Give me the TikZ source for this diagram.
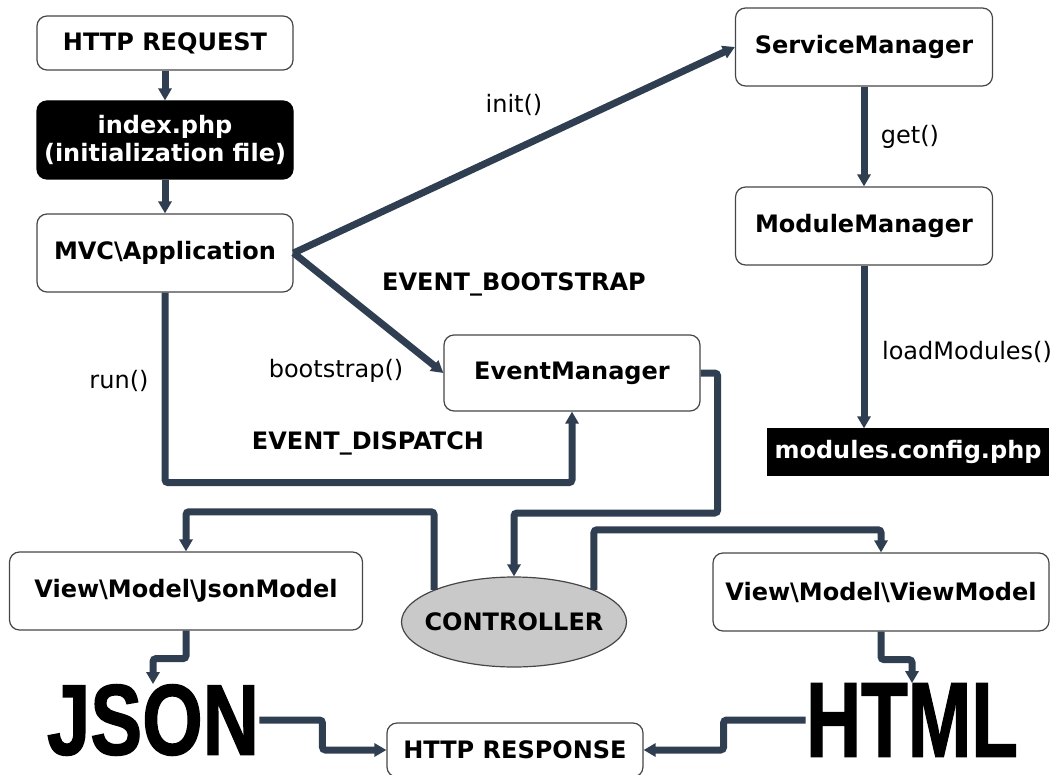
\documentclass[tikz,border=0pt]{standalone}
\usepackage{fontspec}
\setmainfont{DejaVu Sans}
\newfontfamily\bigfont{Liberation Sans}[BoldFeatures={FakeBold=1.5}]
\usepackage{graphicx}
\usepackage{tikz}
\usetikzlibrary{arrows.meta,shapes.geometric}
\definecolor{linkcol}{RGB}{47,62,80}
\definecolor{boxline}{RGB}{70,70,70}
\newcommand{\bs}{\textbackslash}

\begin{document}
\begin{tikzpicture}[x=0.5pt, y=-0.5pt,
  box/.style={draw=boxline, fill=white, line width=0.6pt, rounded corners=5pt, minimum width=128pt, minimum height=39pt,
              align=center, font=\fontsize{12}{14}\selectfont\bfseries},
  darkbox/.style={box, draw=black, fill=black, text=white},
  lab/.style={font=\fontsize{12}{14}\selectfont},
  blab/.style={font=\fontsize{12}{14}\selectfont\bfseries},
  big/.style={inner sep=0pt, font=\bigfont\bfseries},
  link/.style={-{Triangle[length=6pt, width=6.5pt]}, linkcol, line width=3.5pt, rounded corners=1.5pt}]
  \useasboundingbox (0,0) rectangle (1059,775);
  % left column
  \node[box, minimum height=27pt] (req) at (165,43) {HTTP REQUEST};
  \node[darkbox] (idx) at (165,140) {index.php\\(initialization file)};
  \node[box] (app) at (165,253) {MVC\bs Application};
  % right column
  \node[box, minimum width=128.5pt] (sm) at (864,47) {ServiceManager};
  \node[box, minimum width=128.5pt] (mm) at (864,226) {ModuleManager};
  \node[box, rounded corners=0pt, draw=black, fill=black, text=white, inner sep=2pt,
        minimum width=140.5pt, minimum height=23pt] (mcfg) at (908,452) {modules.config.php};
  % middle
  \node[box, minimum height=38pt] (em) at (572,373) {EventManager};
  \node[ellipse, draw=boxline, fill=black!21, line width=0.6pt, inner sep=0pt, minimum width=112.5pt,
        minimum height=45pt, font=\fontsize{12}{14}\selectfont\bfseries] (ctl) at (514,622) {\makebox[0pt]{CONTROLLER}};
  % views
  \node[box, minimum width=176.5pt] (jm) at (186,591) {View\bs Model\bs JsonModel};
  \node[box, minimum width=168pt] (vm) at (881,592) {View\bs Model\bs ViewModel};
  \node[big] (json) at (153,720) {\resizebox*{106pt}{35.5pt}{JSON}};
  \node[big] (html) at (912,720) {\resizebox*{106pt}{36.5pt}{HTML}};
  \node[box, minimum height=27pt] (resp) at (515,750) {HTTP RESPONSE};
  % labels
  \node[lab] (init) at (514,105) {init()};
  \node[lab] (get) at (910,137) {get()};
  \node[lab] (load) at (967,352) {loadModules()};
  \node[blab] (boot) at (514,284) {EVENT\_BOOTSTRAP};
  \node[lab] (bstr) at (336,371) {bootstrap()};
  \node[lab] (run) at (119,381) {run()};
  \node[blab] (disp) at (368,443) {EVENT\_DISPATCH};
  % connectors
  \draw[link] (req) -- (idx);
  \draw[link] (idx) -- (app);
  \draw[link] (app.east) -- (sm.west);
  \draw[link] (app.east) -- (em.west);
  \draw[link] (app.south) -- ++(0,190) -| (em.south);
  \draw[link] (sm) -- (mm);
  \draw[link] (mm) -- (mm |- mcfg.north);
  \draw[link] (em.east) -- ++(17,0) -- ++(0,140) -| (ctl.north);
  \draw[link] (ctl.north west) -- ++(0,-78) -| (jm.north);
  \draw[link] (ctl.north east) -- ++(0,-60) -| (vm.north);
  \draw[link] (jm.south) -- ++(0,28) -| (json.north);
  \draw[link] (vm.south) -- ++(0,28) -| (html.north);
  \draw[link] (json.east) -- ++(63,0) |- (resp.west);
  \draw[link] (html.west) -- ++(-82,0) |- (resp.east);
\end{tikzpicture}
\end{document}
